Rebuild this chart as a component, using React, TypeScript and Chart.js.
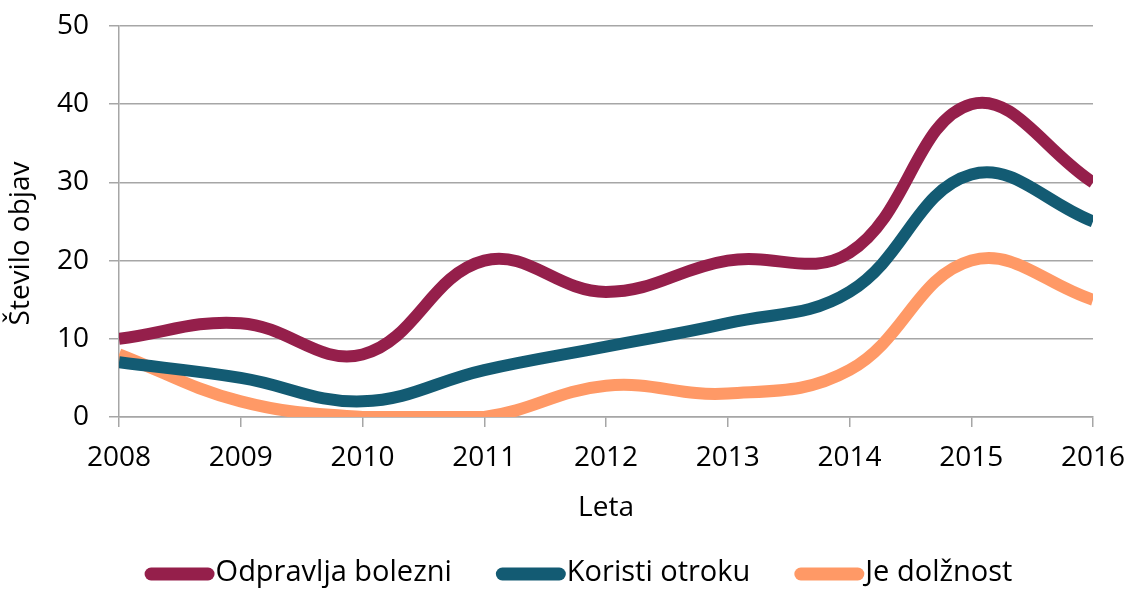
import React, { useEffect, useRef } from "react";
import { Chart, registerables } from "chart.js";

Chart.register(...registerables);

const years = [2008, 2009, 2010, 2011, 2012, 2013, 2014, 2015, 2016];
const odpravlja = [10, 12, 8, 20, 16, 20, 21, 40, 30];
const koristi = [7, 5, 2, 6, 9, 12, 16, 31, 25];
const dolznost = [8, 2, 0, 0, 4, 3, 6, 20, 15];
const seriesNames = ["Odpravlja bolezni", "Koristi otroku", "Je dolžnost"];
const seriesColors = ["#951F4B", "#135B73", "#FF9966"];
const yTicks = [0, 10, 20, 30, 40, 50];
const yTitle = "Število objav";
const xTitle = "Leta";

const FONT = "'Open Sans', sans-serif";

const customPlugin = {
  id: "customDecor",
  afterDraw(chart: any) {
    const ctx = chart.ctx;
    const area = chart.chartArea;
    ctx.save();
    // y axis title
    ctx.font = `28px ${FONT}`;
    ctx.fillStyle = "#000";
    ctx.textAlign = "center";
    ctx.textBaseline = "middle";
    ctx.translate(21, (area.top + area.bottom) / 2 + 22);
    ctx.rotate(-Math.PI / 2);
    ctx.fillText(yTitle, 0, 0);
    ctx.restore();

    // legend
    ctx.save();
    ctx.font = `29px ${FONT}`;
    ctx.textBaseline = "middle";
    ctx.textAlign = "left";
    const lineW = 70;
    const gap = 44;
    const lw = 13;
    const widths = chart.data.datasets.map((d: any) => ctx.measureText(d.label).width);
    let total = 0;
    widths.forEach((w: number, i: number) => {
      total += lineW + 1 + w + (i < widths.length - 1 ? gap : 0);
    });
    let x = 578.5 - total / 2;
    const y = 574;
    chart.data.datasets.forEach((d: any, i: number) => {
      ctx.strokeStyle = d.borderColor;
      ctx.lineWidth = lw;
      ctx.lineCap = "round";
      ctx.beginPath();
      ctx.moveTo(x + lw / 2, y);
      ctx.lineTo(x + lineW - lw / 2, y);
      ctx.stroke();
      ctx.fillStyle = "#000";
      ctx.fillText(d.label, x + lineW + 1, y - 1);
      x += lineW + 1 + widths[i] + gap;
    });
    ctx.restore();
  },
};

export default function App() {
  const ref = useRef<HTMLCanvasElement | null>(null);
  useEffect(() => {
    if (!ref.current) return;
    const all = [odpravlja, koristi, dolznost];
    const chart = new Chart(ref.current, {
      type: "line",
      data: {
        datasets: all.map((vals, i) => ({
          label: seriesNames[i],
          data: years.map((y, j) => ({ x: y, y: vals[j] })),
          borderColor: seriesColors[i],
          backgroundColor: seriesColors[i],
          borderWidth: 12,
          pointRadius: 0,
          tension: 0.4,
          cubicInterpolationMode: "default",
          fill: false,
        })),
      },
      plugins: [customPlugin],
      options: {
        animation: false,
        responsive: true,
        maintainAspectRatio: false,
        layout: { padding: { top: 26, right: 38, left: 0, bottom: 62 } },
        plugins: {
          tooltip: { enabled: false },
          legend: { display: false },
        },
        scales: {
          x: {
            type: "linear",
            min: 2008,
            max: 2016,
            afterBuildTicks: (s: any) => {
              s.ticks = years.map((v) => ({ value: v }));
            },
            afterFit: (s: any) => {
              s.height = 110;
              s.paddingLeft = 0;
              s.paddingRight = 0;
            },
            ticks: {
              font: { family: FONT, size: 28 },
              color: "#000",
              padding: 14,
              callback: (v: any) => String(v),
              maxRotation: 0,
              autoSkip: false,
            },
            grid: {
              display: true,
              drawOnChartArea: false,
              drawTicks: true,
              tickLength: 10,
              color: "#A6A6A6",
              lineWidth: 1.5,
            },
            border: { color: "#A6A6A6", width: 1.5 },
            title: {
              display: true,
              text: xTitle,
              font: { family: FONT, size: 28 },
              color: "#000",
              padding: { top: 0, bottom: 2 },
            },
          },
          y: {
            min: 0,
            max: 50,
            afterBuildTicks: (s: any) => {
              s.ticks = yTicks.map((v) => ({ value: v }));
            },
            afterFit: (s: any) => {
              s.width = 119;
              s.paddingTop = 0;
              s.paddingBottom = 0;
            },
            ticks: {
              font: { family: FONT, size: 28 },
              color: "#000",
              padding: 20,
            },
            grid: {
              color: "#A6A6A6",
              lineWidth: 1.5,
              tickLength: 10,
            },
            border: { color: "#A6A6A6", width: 1.5 },
            title: { display: false },
          },
        },
      },
    } as any);
    return () => chart.destroy();
  }, []);
  return (
    <div style={{ position: "fixed", left: 0, top: 0, width: 1131, height: 589, background: "#fff" }}>
      <canvas ref={ref} />
    </div>
  );
}
